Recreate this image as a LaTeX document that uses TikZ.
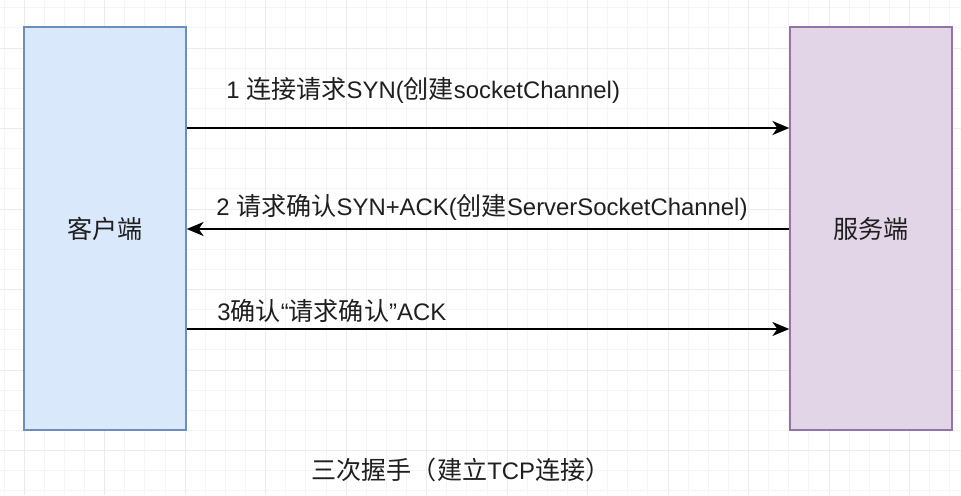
\documentclass[tikz,border=0pt]{standalone}
\usepackage{fontspec}
\setmainfont{Liberation Sans}
\newfontfamily\cjk[Scale=1.05]{Noto Sans CJK SC}
\newcommand{\zh}[1]{{\cjk #1}}
\usetikzlibrary{arrows.meta}
\definecolor{clientfill}{HTML}{DAE8FC}
\definecolor{clientline}{HTML}{6C8EBF}
\definecolor{serverfill}{HTML}{E1D5E7}
\definecolor{serverline}{HTML}{9673A6}
\tikzset{
  gridminor/.style={black!4, line width=0.5pt},
  gridmajor/.style={black!8, line width=0.5pt},
  peer/.style={draw, line width=1pt, minimum width=4.05cm, minimum height=10.075cm},
  msg/.style={line width=1.3pt, -{Stealth[length=12pt, width=10pt, inset=3.5pt]}},
}

\begin{document}
\begin{tikzpicture}[x=0.025cm, y=-0.025cm, every node/.style={font=\fontsize{17}{20}\selectfont, text=black!88, inner sep=0pt}]
            \useasboundingbox (0,0) rectangle (961,495);
            % background grid
            \foreach \x in {4,24.12,...,961} \draw[gridminor] (\x,0) -- (\x,495);
            \foreach \y in {7.7,27.82,...,495} \draw[gridminor] (0,\y) -- (961,\y);
            \foreach \x in {24.12,104.6,...,961} \draw[gridmajor] (\x,0) -- (\x,495);
            \foreach \y in {48,128.48,...,495} \draw[gridmajor] (0,\y) -- (961,\y);
            % the two peers
            \node[peer, draw=clientline, fill=clientfill] (client) at (105,228.5) {\zh{客户端}};
            \node[peer, draw=serverline, fill=serverfill] (server) at (871,228.5) {\zh{服务端}};
            % handshake messages
            \coordinate (r1) at (0,128);
            \coordinate (r2) at (0,229);
            \coordinate (r3) at (0,329);
            \draw[msg] (client.east |- r1) -- (server.west |- r1);
            \draw[msg] (server.west |- r2) -- (client.east |- r2);
            \draw[msg] (client.east |- r3) -- (server.west |- r3);
            \node[anchor=west] (syn) at (226,90) {1 \zh{连接请求}SYN(\zh{创建}socketChannel)};
            \node[anchor=west] (synack) at (216,207) {2 \zh{请求确认}SYN+ACK(\zh{创建}ServerSocketChannel)};
            \node[anchor=west] (ack) at (217,311) {3\zh{确认}“\zh{请求确认}”ACK};
            \node (caption) at (461,470) {\zh{三次握手（建立}TCP\zh{连接）}};
        \end{tikzpicture}
\end{document}
